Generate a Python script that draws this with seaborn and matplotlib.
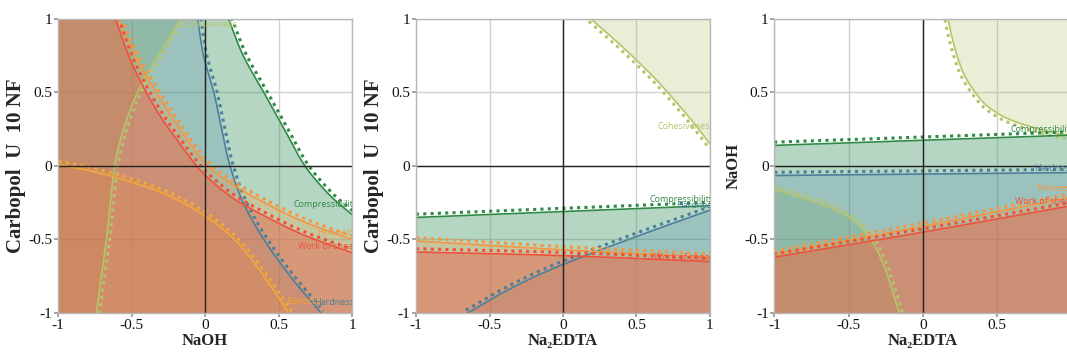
import numpy as np
import matplotlib
matplotlib.use("Agg")
import matplotlib.pyplot as plt
import seaborn as sns

# axis ticks
ticks = [-1, -0.5, 0, 0.5, 1]
tick_labels = ["-1", "-0.5", "0", "0.5", "1"]

x_names = ["NaOH", "Na₂EDTA", "Na₂EDTA"]
y_names = ["Carbopol  U  10 NF", "Carbopol  U  10 NF", "NaOH"]
y_sizes = [15, 15, 12]

# response colours (line, fill)
col = {
    "Compressibility": ("#2f8a45", "#2e8b57"),
    "Hardness": ("#4a7f9c", "#3f7ea8"),
    "Firmness": ("#f5963c", "#f59a3c"),
    "Work of shear": ("#f0503c", "#f0503c"),
    "Elasticity": ("#f5a834", "#f5a030"),
    "Cohesiveness": ("#b5c46a", "#aabe64"),
}
alpha = {"Compressibility": 0.35, "Hardness": 0.22, "Firmness": 0.28,
         "Work of shear": 0.38, "Elasticity": 0.18, "Cohesiveness": 0.26}

# ---- panel 1 : NaOH (x) vs Carbopol (y)
p1_compress_x = [0.16, 0.26, 0.40, 0.54, 0.68, 0.85, 1.0]
p1_compress_y = [1.0, 0.75, 0.5, 0.25, 0.0, -0.2, -0.33]
p1_hard_x = [-0.05, -0.01, 0.06, 0.12, 0.17, 0.26, 0.40, 0.58, 0.79]
p1_hard_y = [1.0, 0.75, 0.5, 0.22, 0.0, -0.25, -0.5, -0.75, -1.0]
p1_firm_x = [-0.59, -0.45, -0.30, -0.15, 0.0, 0.15, 0.33, 0.65, 1.0]
p1_firm_y = [1.0, 0.70, 0.45, 0.22, 0.02, -0.10, -0.21, -0.37, -0.50]
p1_work_x = [-0.61, -0.49, -0.33, -0.17, -0.03, 0.15, 0.33, 0.65, 1.0]
p1_work_y = [1.0, 0.68, 0.38, 0.15, -0.03, -0.19, -0.30, -0.46, -0.59]
p1_elast_x = [-1.0, -0.75, -0.5, -0.25, 0.0, 0.2, 0.35, 0.47, 0.57]
p1_elast_y = [0.01, -0.04, -0.11, -0.2, -0.34, -0.5, -0.68, -0.85, -1.0]
p1_cohes_x = [-0.74, -0.705, -0.67, -0.645, -0.615, -0.57, -0.51, -0.46, -0.40, -0.33, -0.25, -0.17]
p1_cohes_y = [-1.0, -0.75, -0.5, -0.25, 0.0, 0.2, 0.38, 0.5, 0.62, 0.73, 0.86, 1.0]

# ---- panel 2 : Na2EDTA (x) vs Carbopol (y)
p2_compress_x = [-1.0, 0.0, 1.0]
p2_compress_y = [-0.35, -0.31, -0.27]
p2_firm_x = [-1.0, 0.0, 1.0]
p2_firm_y = [-0.51, -0.57, -0.62]
p2_work_x = [-1.0, 0.0, 1.0]
p2_work_y = [-0.585, -0.61, -0.65]
p2_hard_x = [-0.65, -0.33, 0.0, 0.5, 1.0]
p2_hard_y = [-1.0, -0.82, -0.67, -0.48, -0.30]
p2_cohes_x = [0.19, 0.35, 0.5, 0.65, 0.8, 0.9, 1.0]
p2_cohes_y = [1.0, 0.86, 0.72, 0.57, 0.40, 0.28, 0.15]

# ---- panel 3 : Na2EDTA (x) vs NaOH (y)
p3_compress_x = [-1.0, 0.0, 1.0]
p3_compress_y = [0.14, 0.175, 0.21]
p3_hard_x = [-1.0, 0.0, 1.0]
p3_hard_y = [-0.065, -0.055, -0.045]
p3_firm_x = [-1.0, 0.0, 1.0]
p3_firm_y = [-0.60, -0.41, -0.21]
p3_work_x = [-1.0, 0.0, 1.0]
p3_work_y = [-0.62, -0.45, -0.27]
p3_cohes_top_x = [0.17, 0.20, 0.25, 0.30, 0.40, 0.50, 0.60, 0.75, 0.90, 1.0]
p3_cohes_top_y = [1.0, 0.86, 0.69, 0.58, 0.44, 0.36, 0.31, 0.26, 0.22, 0.205]
p3_cohes_low_x = [-1.0, -0.67, -0.47, -0.35, -0.26, -0.17, -0.16]
p3_cohes_low_y = [-0.16, -0.265, -0.37, -0.50, -0.685, -0.96, -1.0]

# (response, x, y, shaded side)
panels = [
    [("Cohesiveness", p1_cohes_x, p1_cohes_y, "above"),
     ("Compressibility", p1_compress_x, p1_compress_y, "below"),
     ("Hardness", p1_hard_x, p1_hard_y, "below"),
     ("Elasticity", p1_elast_x, p1_elast_y, "below"),
     ("Firmness", p1_firm_x, p1_firm_y, "below"),
     ("Work of shear", p1_work_x, p1_work_y, "below")],
    [("Cohesiveness", p2_cohes_x, p2_cohes_y, "above"),
     ("Compressibility", p2_compress_x, p2_compress_y, "below"),
     ("Hardness", p2_hard_x, p2_hard_y, "below"),
     ("Firmness", p2_firm_x, p2_firm_y, "below"),
     ("Work of shear", p2_work_x, p2_work_y, "below")],
    [("Cohesiveness", p3_cohes_top_x, p3_cohes_top_y, "above"),
     ("Cohesiveness", p3_cohes_low_x, p3_cohes_low_y, "below"),
     ("Compressibility", p3_compress_x, p3_compress_y, "below"),
     ("Hardness", p3_hard_x, p3_hard_y, "below"),
     ("Firmness", p3_firm_x, p3_firm_y, "below"),
     ("Work of shear", p3_work_x, p3_work_y, "below")],
]

# curve labels (text, x, y)
labels = [
    [("Cohesiveness", -0.17, 0.96), ("Compressibility", 0.60, -0.26),
     ("Firmness", 0.76, -0.45), ("Work of shear", 0.63, -0.55),
     ("Elasticity", 0.55, -0.92), ("Hardness", 0.74, -0.93)],
    [("Cohesiveness", 0.64, 0.27), ("Compressibility", 0.59, -0.23),
     ("Hardness", 0.77, -0.27), ("Work of shear", 0.62, -0.62)],
    [("Compressibility", 0.59, 0.25), ("Hardness", 0.75, -0.02),
     ("Firmness", 0.76, -0.15), ("Work of shear", 0.62, -0.24)],
]


def smooth(xs, ys, n=24):
    # Catmull-Rom through the read-off points
    p = np.column_stack([xs, ys]).astype(float)
    if len(p) < 3:
        return p[:, 0], p[:, 1]
    p = np.vstack([2 * p[0] - p[1], p, 2 * p[-1] - p[-2]])
    out = []
    t = np.linspace(0, 1, n, endpoint=False)[:, None]
    for k in range(1, len(p) - 2):
        p0, p1, p2, p3 = p[k - 1], p[k], p[k + 1], p[k + 2]
        seg = 0.5 * ((2 * p1) + (-p0 + p2) * t + (2 * p0 - 5 * p1 + 4 * p2 - p3) * t ** 2
                     + (-p0 + 3 * p1 - 3 * p2 + p3) * t ** 3)
        out.append(seg)
    out.append(p[-2][None, :])
    out = np.vstack(out)
    return out[:, 0], out[:, 1]


sns.set_theme(style="whitegrid")
plt.rcParams["font.family"] = ["Liberation Serif", "DejaVu Serif"]

fig = plt.figure(figsize=(10.67, 3.56), dpi=100)
ax_pos = [[0.0544, 0.1208, 0.2755, 0.826],
          [0.3899, 0.1208, 0.2755, 0.826],
          [0.7257, 0.1208, 0.2784, 0.826]]

grid = np.linspace(-1, 1, 1201)
for i, curves in enumerate(panels):
    ax = fig.add_axes(ax_pos[i])
    ax.set_xlim(-1, 1)
    ax.set_ylim(-1, 1)
    ax.set_axisbelow(True)
    ax.grid(True, color="#d2d2d2", lw=1.0)
    for s in ax.spines.values():
        s.set_color("#b8b8b8")
        s.set_linewidth(1.0)

    for name, xs, ys, side in curves:
        lc, fc = col[name]
        sx, sy = smooth(xs, ys)
        sx = np.maximum.accumulate(sx)
        yc = np.interp(grid, sx, sy)
        if side == "below":
            ax.fill_between(grid, -1, yc, color=fc, alpha=alpha[name], lw=0)
        else:
            ax.fill_between(grid, yc, 1, color=fc, alpha=alpha[name], lw=0)
        sns.lineplot(x=sx, y=sy, sort=False, estimator=None, ax=ax,
                     color=lc, lw=1.2, legend=False)
        # dotted companion line on the unshaded side
        dx, dy = np.gradient(sx), np.gradient(sy)
        nrm = np.hypot(dx, dy) + 1e-12
        nx, ny = -dy / nrm, dx / nrm
        sgn = 1 if side == "below" else -1
        flip = np.where(ny * sgn < 0, -1, 1)
        off = 0.022
        ax.plot(sx + flip * nx * off, sy + flip * ny * off, color=lc, lw=2.2,
                linestyle=(0, (1, 1.4)), dash_capstyle="butt")

    for txt, tx, ty in labels[i]:
        ax.text(tx, ty, txt, color=col[txt][0], fontsize=6.5, family="Open Sans",
                ha="left", va="center", clip_on=True)

    ax.axhline(0, color="#222222", lw=1.0)
    ax.axvline(0, color="#222222", lw=1.0)

    ax.set_xticks(ticks)
    ax.set_xticklabels(tick_labels)
    ax.set_yticks(ticks)
    ax.set_yticklabels(tick_labels)
    ax.tick_params(axis="both", labelsize=11, length=3, color="#999999",
                   pad=1, left=True, bottom=True, labelcolor="#111111")
    ax.set_xlabel(x_names[i], fontsize=12, fontweight="bold", labelpad=1)
    ax.set_ylabel(y_names[i], fontsize=y_sizes[i], fontweight="bold", labelpad=2)

fig.savefig("out.png", dpi=100)
